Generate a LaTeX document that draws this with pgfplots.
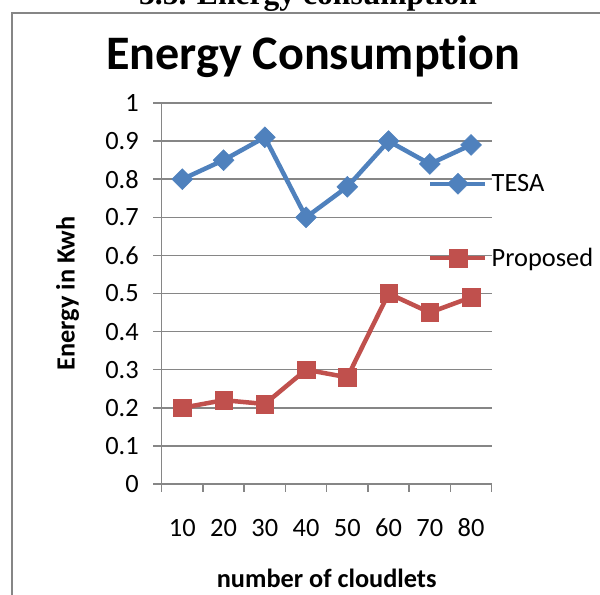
\documentclass[border=0pt]{standalone}
\usepackage{fontspec}
\setmainfont{Carlito}[Ligatures=NoCommon]
\newfontfamily\timesfont{Liberation Serif}
\usepackage{pgfplots}
\pgfplotsset{compat=1.18}
\definecolor{tesa}{HTML}{4F81BD}
\definecolor{prop}{HTML}{C0504D}
\definecolor{axgray}{HTML}{868686}
\begin{document}
\begin{tikzpicture}
\useasboundingbox (0,0) rectangle (600bp,595bp);
\clip (0,0) rectangle (600bp,595bp);
\node[anchor=base, font=\timesfont\bfseries\fontsize{31.7}{38}\selectfont, inner sep=0pt] at (308bp,590.4bp) {3.5. Energy consumption};
\draw[axgray, line width=2bp] (12bp,-5bp) -- (12bp,582bp) -- (610bp,582bp);
\begin{axis}[
  at={(161.7bp,111bp)}, anchor=south west,
  scale only axis, width=330bp, height=381bp,
  xmin=-0.5, xmax=7.5, ymin=0, ymax=1,
  axis lines=left,
  axis line style={-, draw=axgray, line width=1.5bp},
  /pgf/number format/assume math mode=true,
  xtick={0,1,2,3,4,5,6,7},
  xticklabels={10,20,30,40,50,60,70,80},
  minor xtick={-0.5,0.5,1.5,2.5,3.5,4.5,5.5,6.5,7.5},
  ytick={0,0.1,0.2,0.3,0.4,0.5,0.6,0.7,0.8,0.9,1},
  yticklabels={0,0.1,0.2,0.3,0.4,0.5,0.6,0.7,0.8,0.9,1},
  tick align=outside,
  major x tick style={draw=none},
  minor x tick style={draw=axgray, line width=1.5bp},
  major y tick style={draw=axgray, line width=1.5bp},
  major tick length=8.5bp,
  minor tick length=8bp,
  ymajorgrids=true,
  grid style={draw=axgray, line width=1.5bp},
  ticklabel style={font=\fontsize{26.5}{31}\selectfont},
  xticklabel style={anchor=base, yshift=-44bp},
  yticklabel style={anchor=east, xshift=-11bp},
  title={Energy Consumption},
  title style={at={(axis description cs:0.4585,1.0735)}, anchor=base, font=\bfseries\fontsize{48.3}{56}\selectfont, inner sep=0pt},
  xlabel={number of cloudlets},
  xlabel style={at={(axis description cs:0.5,0)}, anchor=base, yshift=-103bp, font=\bfseries\fontsize{26.4}{31}\selectfont, inner sep=0pt},
  ylabel={Energy in Kwh},
  ylabel style={at={(axis description cs:-0.2636,0.5)}, anchor=base, rotate=0, font=\bfseries\fontsize{26.4}{31}\selectfont, inner sep=0pt},
  legend style={at={(axis description cs:0.807,0.816)}, anchor=north west, draw=none, fill=none, inner sep=0pt, row sep=54bp, column sep=4bp, font=\fontsize{26.5}{31}\selectfont, nodes={inner sep=0pt}},
  legend cell align=left,
  legend image code/.code={\draw[mark repeat=2,mark phase=2,#1] plot coordinates {(0bp,0bp) (27.5bp,0bp) (55bp,0bp)};},
  clip=false,
]
\addplot[color=tesa, line width=4.5bp, mark=square*, mark size=7.4bp, mark options={rotate=45, fill=tesa, draw=tesa, line width=0.5bp}]
  coordinates {(0,0.80) (1,0.85) (2,0.91) (3,0.70) (4,0.78) (5,0.90) (6,0.84) (7,0.89)};
\addlegendentry{TESA}
\addplot[color=prop, line width=4.5bp, mark=square*, mark size=8.8bp, mark options={fill=prop, draw=prop, line width=0.5bp}]
  coordinates {(0,0.20) (1,0.22) (2,0.21) (3,0.30) (4,0.28) (5,0.50) (6,0.45) (7,0.49)};
\addlegendentry{Proposed}
\end{axis}
\end{tikzpicture}
\end{document}
